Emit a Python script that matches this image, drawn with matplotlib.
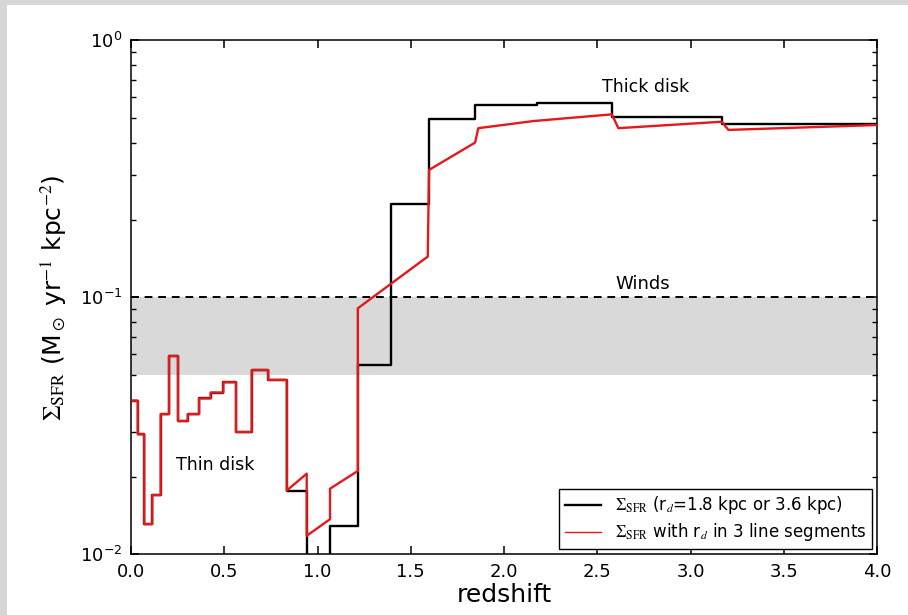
import matplotlib
matplotlib.use("Agg")
import matplotlib.pyplot as plt
import numpy as np
from matplotlib.patches import Rectangle

plt.rcParams['mathtext.fontset'] = 'stix'
plt.rcParams['font.family'] = ['DejaVu Sans']

# thin-disk steps, shared by both curves (bin edges in z, one SFR value per bin)
thin_edges = [0.0, 0.036, 0.071, 0.114, 0.159, 0.204, 0.252, 0.304, 0.365,
              0.427, 0.495, 0.563, 0.647, 0.736, 0.835]
thin_sfr = [0.0396, 0.0293, 0.0131, 0.0170, 0.0351, 0.0591, 0.0330, 0.0351,
            0.0404, 0.0426, 0.0467, 0.0299, 0.0521, 0.0477]

# constant r_d: step function beyond z=0.835
black_edges = [0.835, 0.942, 1.067, 1.216, 1.392, 1.598, 1.845, 2.175, 2.578,
               3.167, 4.0]
black_sfr = [0.0177, 0.008, 0.0129, 0.0546, 0.231, 0.494, 0.560, 0.572,
             0.505, 0.471]

# r_d in 3 line segments: piecewise curve beyond z=0.835
red_z = [0.835, 0.942, 0.942, 1.067, 1.067, 1.216, 1.216, 1.591, 1.598,
         1.845, 1.862, 2.158, 2.578, 2.613, 3.167, 3.203, 4.0]
red_sfr = [0.0177, 0.0206, 0.0118, 0.0137, 0.0180, 0.0211, 0.0906, 0.144,
           0.313, 0.400, 0.455, 0.485, 0.515, 0.455, 0.482, 0.448, 0.468]

winds_lo, winds_hi = 0.05, 0.1


def steps(edges, vals):
    x = np.repeat(edges, 2)[1:-1]
    y = np.repeat(vals, 2)
    return x, y


tx, ty = steps(thin_edges, thin_sfr)
bx, by = steps(black_edges, black_sfr)
black_x = np.concatenate([tx, bx])
black_y = np.concatenate([ty, by])
red_x = np.concatenate([tx, red_z])
red_y = np.concatenate([ty, red_sfr])

fig = plt.figure(figsize=(9.08, 6.15), dpi=100)
fig.patch.set_facecolor('#d6d6d6')
fig.patches.append(Rectangle((7 / 908, 0), 1, 1 - 5 / 615, transform=fig.transFigure,
                             facecolor='white', edgecolor='none', zorder=-1))
ax = fig.add_axes([0.1443, 0.0987, 0.8216, 0.8358])

ax.axhspan(winds_lo, winds_hi, color='#d9d9d9', lw=0, zorder=1)
ax.axhline(winds_hi, color='black', lw=1.4, ls=(0, (4, 3)), zorder=2)

ax.plot(black_x, black_y, color='black', lw=1.7, zorder=3,
        label=r'$\Sigma_{\rm SFR}$ (r$_d$=1.8 kpc or 3.6 kpc)')
ax.plot(red_x, red_y, color='#e3191c', lw=1.7, zorder=4,
        label=r'$\Sigma_{\rm SFR}$ with r$_d$ in 3 line segments')

ax.set_yscale('log')
ax.set_xlim(0, 4)
ax.set_ylim(1e-2, 1)
ax.set_xticks(np.arange(0, 4.01, 0.5))
ax.set_xticklabels(['%.1f' % v for v in np.arange(0, 4.01, 0.5)])

ax.tick_params(which='both', direction='in', top=True, right=True,
               labelsize=13, pad=6)
ax.tick_params(which='major', length=6, width=1.1)
ax.tick_params(which='minor', length=3.5, width=1)
for s in ax.spines.values():
    s.set_linewidth(1.1)

ax.set_xlabel('redshift', fontsize=18, labelpad=2)
ax.set_ylabel(r'$\Sigma_{\rm SFR}$ (M$_\odot$ yr$^{-1}$ kpc$^{-2}$)', fontsize=18,
              labelpad=8)

ax.text(2.76, 0.66, 'Thick disk', fontsize=12.5, ha='center', va='center')
ax.text(2.745, 0.104, 'Winds', fontsize=13, ha='center', va='bottom')
ax.text(0.45, 0.0223, 'Thin disk', fontsize=12.5, ha='center', va='center')

leg = ax.legend(loc='lower right', fontsize=12, fancybox=False,
                edgecolor='black', framealpha=1, borderaxespad=0.3,
                handlelength=2.2, borderpad=0.35, labelspacing=0.3)
leg.get_frame().set_linewidth(1.0)
leg.get_lines()[1].set_linewidth(1.0)

fig.savefig('out.png', dpi=100)
